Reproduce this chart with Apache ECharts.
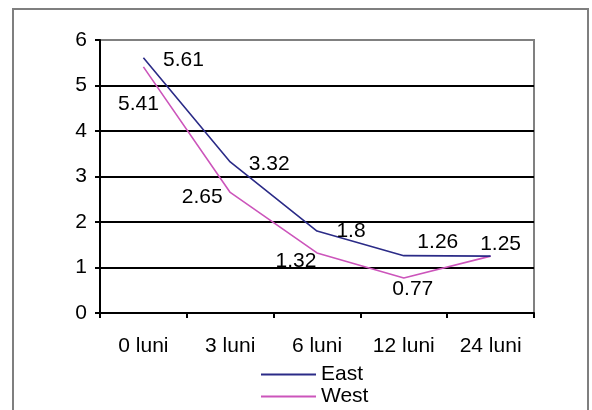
<!DOCTYPE html>
<html>
<head>
<meta charset="utf-8">
<script src="https://cdn.jsdelivr.net/npm/echarts@6/dist/echarts.min.js"></script>
<style>
  html, body { margin: 0; padding: 0; background: #fff; }
  #chart { width: 592px; height: 410px; }
</style>
</head>
<body>
<div id="chart"></div>
<script>
// Categories (months of follow-up) and the two series
const categories = ['0 luni', '3 luni', '6 luni', '12 luni', '24 luni'];
const eastValues = [5.61, 3.32, 1.8, 1.26, 1.25];
const westValues = [5.41, 2.65, 1.32, 0.77, 1.25];
const yTicks = [0, 1, 2, 3, 4, 5, 6];

// Per-point label offsets (px) from each point
const eastLabelOffsets = [[40, 2], [39, 2], [34, 0], [34, -13], [10, -12]];
const westLabelOffsets = [[-5, 37], [-28, 5], [-21, 8], [9, 11], [10, -12]];

const FONT = 'Liberation Sans, Arial, sans-serif';
const FS = 21;
const EAST_COLOR = '#2b2b87';
const WEST_COLOR = '#cc55bb';

function withLabels(values, offsets, showLast) {
  return values.map((v, i) => ({
    value: v,
    label: {
      show: showLast || i < values.length - 1,
      position: 'inside',
      offset: offsets[i],
      formatter: String(v)
    }
  }));
}

function legendRow(name, color, top) {
  return {
    orient: 'vertical',
    left: 261, top: top,
    padding: 0,
    itemWidth: 55, itemHeight: 2, itemGap: 6,
    icon: 'rect',
    textStyle: { fontSize: FS, color: '#000', fontFamily: FONT },
    data: [{ name: name, itemStyle: { color: color } }]
  };
}

const chart = echarts.init(document.getElementById('chart'));
chart.setOption({
  animation: false,
  textStyle: { fontFamily: FONT },
  grid: {
    left: 100, right: 58, top: 40, bottom: 97,
    show: true, borderColor: '#808080', borderWidth: 2, backgroundColor: 'transparent'
  },
  graphic: [{
    type: 'rect',
    shape: { x: 13, y: 9, width: 575, height: 420 },
    style: { fill: 'none', stroke: '#7f7f7f', lineWidth: 2 },
    z: -1
  }],
  legend: [
    legendRow('East', EAST_COLOR, 364),
    legendRow('West', WEST_COLOR, 386)
  ],
  xAxis: {
    type: 'category',
    data: categories,
    boundaryGap: true,
    axisLine: { lineStyle: { color: '#000', width: 2 } },
    axisTick: { show: true, length: 5, lineStyle: { color: '#000', width: 2 } },
    axisLabel: { fontSize: FS, color: '#000', margin: 23, fontFamily: FONT },
    splitLine: { show: false }
  },
  yAxis: {
    type: 'value',
    min: yTicks[0], max: yTicks[yTicks.length - 1], interval: 1,
    axisLine: { show: true, lineStyle: { color: '#000', width: 2 } },
    axisTick: { show: true, length: 5, lineStyle: { color: '#000', width: 2 } },
    axisLabel: { fontSize: FS, color: '#000', margin: 13, fontFamily: FONT },
    splitLine: {
      show: true,
      lineStyle: { color: ['#000', '#000', '#000', '#000', '#000', '#000', '#808080'], width: 2 }
    }
  },
  series: [
    {
      name: 'East',
      type: 'line',
      data: withLabels(eastValues, eastLabelOffsets, true),
      symbol: 'circle', symbolSize: 1,
      itemStyle: { color: 'rgba(0,0,0,0)' },
      lineStyle: { color: EAST_COLOR, width: 1.6 },
      label: { fontSize: FS, color: '#000', fontFamily: FONT },
      z: 3
    },
    {
      name: 'West',
      type: 'line',
      data: withLabels(westValues, westLabelOffsets, false),
      symbol: 'circle', symbolSize: 1,
      itemStyle: { color: 'rgba(0,0,0,0)' },
      lineStyle: { color: WEST_COLOR, width: 1.6 },
      label: { fontSize: FS, color: '#000', fontFamily: FONT },
      z: 2
    }
  ]
});
</script>
</body>
</html>
